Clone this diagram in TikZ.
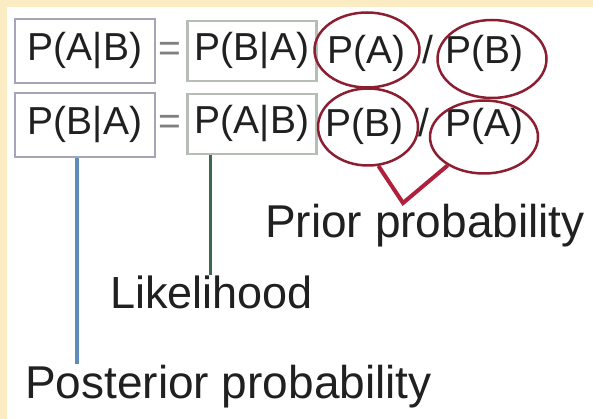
\documentclass[tikz,border=0pt]{standalone}
\usepackage{fontspec}
\setmainfont{Liberation Sans}
\usetikzlibrary{shapes.geometric}
\definecolor{creme}{RGB}{251,236,196}
\definecolor{encre}{RGB}{32,32,32}
\definecolor{cadreA}{RGB}{165,165,182}
\definecolor{cadreB}{RGB}{180,190,180}
\definecolor{bordeaux}{RGB}{140,30,50}
\definecolor{rougeV}{RGB}{176,32,58}
\definecolor{bleu}{RGB}{92,140,184}
\definecolor{vert}{RGB}{64,104,76}
\begin{document}
\begin{tikzpicture}[x=1pt, y=-1pt]
	\tikzset{formule/.style={inner sep=0pt, text=encre, font=\fontsize{39}{44}\selectfont},
		terme/.style={formule, anchor=base},
		boiteA/.style={formule, draw=cadreA, line width=2.5pt, minimum width=140pt, minimum height=64pt},
		boiteB/.style={formule, draw=cadreB, line width=2.5pt, minimum width=129pt, minimum height=60pt},
		bulle/.style={ellipse, draw=bordeaux, line width=2.5pt, inner sep=0pt},
		legende/.style={inner sep=0pt, text=encre, anchor=base west, font=\fontsize{46}{52}\selectfont},
		trait/.style={line width=#1pt}};

	\useasboundingbox (0,0) rectangle (593,419);
	\fill[white] (0,0) rectangle (593,419);
	\fill[creme] (0,0) rectangle (593,7);
	\fill[creme] (0,0) rectangle (7,419);

	\node[boiteA] (pab1) at ( 85,  51) {P(A|B)};
	\node[terme, text=gray] (eg1) at (170,  62) {=};
	\node[boiteB] (pba1) at (252,  51) {P(B|A)};
	\node[terme] (ta1) at (366,  64) {P(A)};
	\node[terme] (sl1) at (428,  64) {/};
	\node[terme] (tb1) at (484,  64) {P(B)};

	\node[boiteA] (pba2) at ( 85, 125) {P(B|A)};
	\node[terme, text=gray] (eg2) at (170, 135) {=};
	\node[boiteB] (pab2) at (252, 124) {P(A|B)};
	\node[terme] (tb2) at (364, 137) {P(B)};
	\node[terme] (sl2) at (424, 137) {/};
	\node[terme] (ta2) at (484, 137) {P(A)};

	\node[bulle, minimum width=105pt, minimum height=75pt] (pa1) at (367,  50) {};
	\node[bulle, minimum width=109pt, minimum height=78pt] (pb1) at (492,  59) {};
	\node[bulle, minimum width=100pt, minimum height=77pt] (pb2) at (368, 127) {};
	\node[bulle, minimum width=108pt, minimum height=73pt] (pa2) at (484, 137) {};

	\node[legende] (prior) at (265, 238) {Prior probability};
	\node[legende, font=\fontsize{45}{50}\selectfont] (like) at (110, 308) {Likelihood};
	\node[legende] (post) at ( 25, 398) {Posterior probability};

	\coordinate (pointe) at (403, 203);

	\draw[trait=4, bleu] ([xshift=-8pt]pba2.south) -- ([xshift=-8pt]pba2.south |- post.north);
	\draw[trait=3, vert] ([xshift=-42pt]pab2.south) -- ([xshift=-42pt]pab2.south |- like.north);
	\draw[trait=4, rougeV, line join=miter] (pb2.-75) -- (pointe) -- (pa2.-142);

\end{tikzpicture}
\end{document}
